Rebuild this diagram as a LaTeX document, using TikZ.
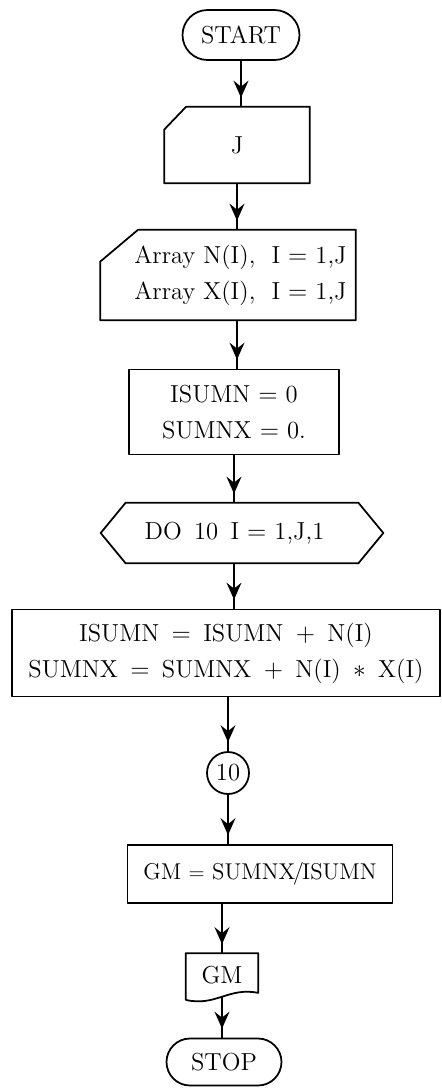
\documentclass[tikz,border=0pt]{standalone}
\usetikzlibrary{shapes.misc,decorations.markings,arrows.meta}
\begin{document}
\begin{tikzpicture}[x=0.02cm,y=-0.02cm,
  every node/.style={font=\fontsize{14}{20.5}\selectfont, inner sep=0pt},
  outline/.style={line width=1pt, line join=round},
  term/.style={draw, outline, rounded rectangle, minimum height=1.0cm},
  plainbox/.style={rectangle, align=center},
  rectbox/.style={draw, outline, rectangle, align=center},
  flow/.style={line width=0.9pt,
    decoration={markings, mark=at position -0.18cm with {\arrow{Stealth[length=0.34cm,width=0.3cm,inset=0.12cm]}}},
    postaction={decorate}},
]
\newcommand\opgap{\hspace{0.5em}}
\useasboundingbox (0,0) rectangle (442,1090);

% START
\node[term, minimum width=2.34cm] (start) at (241,35) {START};

% J (card)
\node[plainbox, minimum width=2.9cm, minimum height=1.52cm] (j) at (237,145) {J};
\draw[outline] ([yshift=-0.46cm]j.north west) -- ([xshift=0.44cm]j.north west) -- (j.north east) -- (j.south east) -- (j.south west) -- cycle;

% Array (card)
\node[plainbox, minimum width=5.1cm, minimum height=1.8cm] (arr) at (228,275)
  {\hspace*{0.5cm}Array~N(I),~~I $=$ 1,J\\\hspace*{0.5cm}Array~X(I),~~I $=$ 1,J};
\draw[outline] ([yshift=-0.64cm]arr.north west) -- ([xshift=0.76cm]arr.north west) -- (arr.north east) -- (arr.south east) -- (arr.south west) -- cycle;

% init
\node[rectbox, minimum width=4.2cm, minimum height=1.7cm] (init) at (234,412)
  {ISUMN $=$ 0\\SUMNX $=$ 0.};

% DO hexagon
\node[plainbox, minimum width=4.64cm, minimum height=1.2cm] (do) at (242,533) {DO\opgap 10\opgap I $=$ 1,J,1\hspace*{0.3cm}};
\draw[outline] (do.north west) -- (do.north east) -- ([xshift=0.5cm]do.east) -- (do.south east) -- (do.south west) -- ([xshift=-0.5cm]do.west) -- cycle;

% loop body
\node[rectbox, minimum width=8.56cm, minimum height=1.74cm] (body) at (226,653)
  {ISUMN\opgap$=$\opgap ISUMN\opgap$+$\opgap N(I)\\SUMNX\opgap$=$\opgap SUMNX\opgap$+$\opgap N(I)\opgap$*$\opgap X(I)};

% connector 10
\node[draw, outline, circle, minimum size=0.84cm] (ten) at (228,773) {10};

% GM =
\node[rectbox, minimum width=5.3cm, minimum height=1.16cm] (gmeq) at (260,874) {\fontsize{13}{16}\selectfont GM $=$ SUMNX\kern-1.5pt/\kern-1pt ISUMN};

% GM document
\node[plainbox, minimum width=1.44cm, minimum height=0.86cm] (gm) at (222,975) {GM};
\draw[outline] ([yshift=-0.06cm]gm.south west) -- (gm.north west) -- (gm.north east) -- ([yshift=0.08cm]gm.south east)
  .. controls ([xshift=-0.6cm,yshift=0.2cm]gm.south east) and ([xshift=0.6cm,yshift=-0.2cm]gm.south west) .. ([yshift=-0.06cm]gm.south west);

% STOP
\node[term, minimum width=2.3cm, minimum height=0.94cm] (stop) at (224,1062) {STOP};

% connectors
\draw[flow] (start.south) -- (start.south |- j.north);
\draw[flow] (j.south) -- (j.south |- arr.north);
\draw[flow] (j.south |- arr.south) -- (j.south |- init.north);
\draw[flow] (init.south) -- (init.south |- do.north);
\draw[flow] (init.south |- do.south) -- (init.south |- body.north);
\draw[flow] (ten.north |- body.south) -- (ten.north);
\draw[flow] (ten.south) -- (ten.south |- gmeq.north);
\draw[flow] (gm.north |- gmeq.south) -- (gm.north);
\draw[flow] (gm.south) -- (stop.north -| gm.south);
\end{tikzpicture}
\end{document}
